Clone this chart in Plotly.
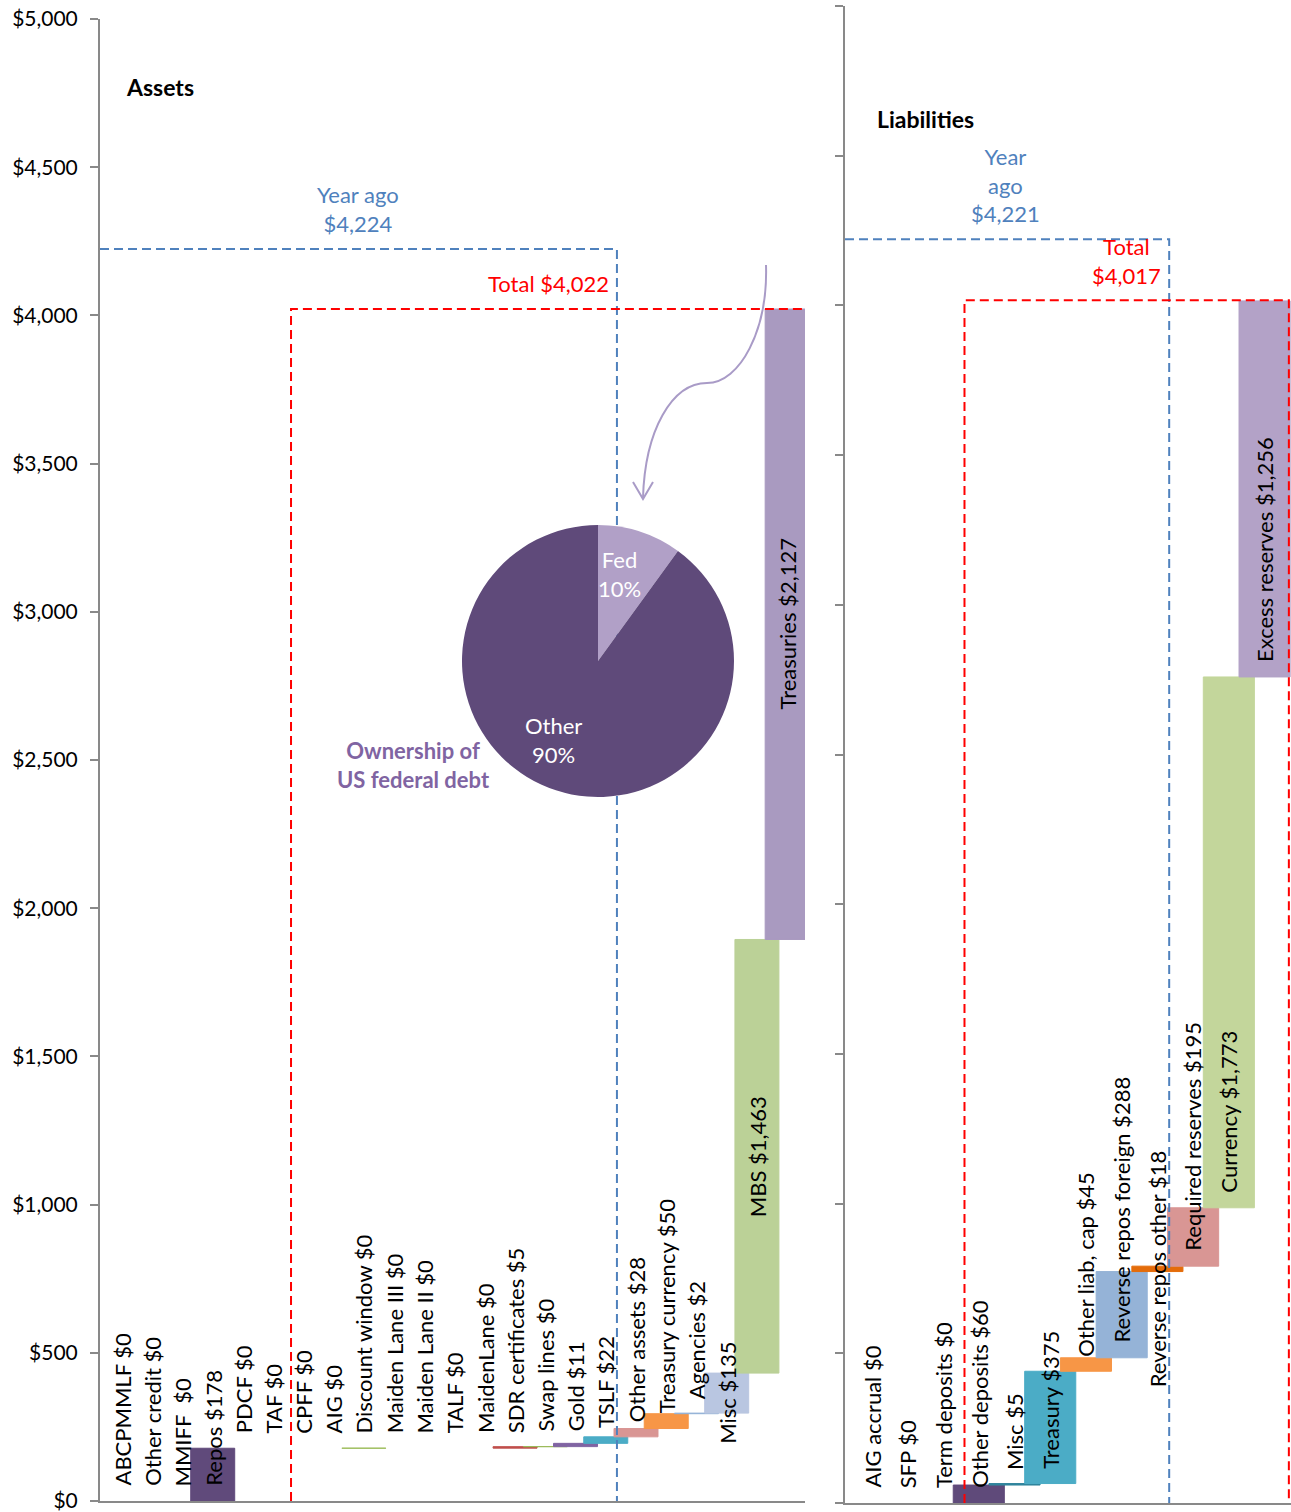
import plotly.graph_objects as go

# ---------------- data ----------------
asset_names = ["ABCPMMLF", "Other credit", "MMIFF ", "Repos", "PDCF", "TAF", "CPFF", "AIG",
               "Discount window", "Maiden Lane III", "Maiden Lane II", "TALF", "MaidenLane",
               "SDR certificates", "Swap lines", "Gold", "TSLF", "Other assets",
               "Treasury currency", "Agencies", "Misc", "MBS", "Treasuries"]
asset_values = [0, 0, 0, 178, 0, 0, 0, 0, 0.3, 0, 0, 0, 0, 5, 0.2, 11, 22, 28, 50, 2, 135, 1463, 2127]

liab_names = ["AIG accrual", "SFP", "Term deposits", "Other deposits", "Misc", "Treasury",
              "Other liab, cap", "Reverse repos foreign", "Reverse repos other",
              "Required reserves", "Currency", "Excess reserves"]
liab_values = [0, 0, 0, 60, 5, 375, 45, 288, 18, 195, 1773, 1256]

assets_total = 4022
assets_year_ago = 4224
liab_total = 4017
liab_year_ago = 4221

ownership_labels = ["Fed", "Other"]
ownership_values = [10, 90]

y_ticks = [0, 500, 1000, 1500, 2000, 2500, 3000, 3500, 4000, 4500, 5000]

# ---------------- styles ----------------
asset_colors = ["#4F81BD", "#C0504D", "#9BBB59", "#604A7B", "#4BACC6", "#F79646", "#2C4D75",
                "#772C2A", "#9BBB59", "#4F81BD", "#C0504D", "#9BBB59", "#8064A2", "#C0504D",
                "#9BBB59", "#8064A2", "#4BACC6", "#D99694", "#F79646", "#95B3D7", "#B9C6E1",
                "#BBD197", "#A99AC0"]
liab_colors = ["#4F81BD", "#C0504D", "#9BBB59", "#5F4A7A", "#31859C", "#4BACC6", "#F79646",
               "#95B3D7", "#E46C0A", "#D99694", "#C3D69B", "#B3A2C7"]
pie_colors = ["#B1A0C7", "#5F4A7A"]
asset_center_labels = {"Misc", "MBS", "Treasuries"}
liab_center_labels = {"Reverse repos other"}

W, H = 1291, 1512
FONT = "Lato, Calibri, 'Open Sans', sans-serif"
BLUE = "#4F81BD"
RED = "#FF0000"
AXIS_GRAY = "#898989"
DASH = "9px,5px"


def px(x, y):
    return x / W, 1 - y / H


def bases_of(values):
    out, c = [], 0
    for v in values:
        out.append(c)
        c += v
    return out


fig = go.Figure()
annotations = []

panels = [
    dict(names=asset_names, values=asset_values, colors=asset_colors, centers=asset_center_labels,
         xa="x", ya="y", width=1.455),
    dict(names=liab_names, values=liab_values, colors=liab_colors, centers=liab_center_labels,
         xa="x2", ya="y2", width=1.43),
]

for p in panels:
    vals = p["values"]
    bases = bases_of(vals)
    idx = list(range(len(vals)))
    fig.add_trace(go.Bar(
        x=idx, y=vals, base=bases, width=p["width"],
        marker=dict(color=p["colors"],
                    line=dict(color=p["colors"], width=[1 if v > 0 else 0 for v in vals])),
        xaxis=p["xa"], yaxis=p["ya"], showlegend=False, hoverinfo="skip"))
    for i, (n, v, b) in enumerate(zip(p["names"], vals, bases)):
        text = f"{n} ${v:,.0f}"
        if n in p["centers"]:
            y, ya, ys = b + v / 2, "middle", 0
        else:
            y, ya, ys = b, "bottom", 13
        annotations.append(dict(x=i, y=y, xref=p["xa"], yref=p["ya"], text=text, textangle=-90,
                                xanchor="center", yanchor=ya, yshift=ys, showarrow=False,
                                font=dict(family=FONT, size=22, color="black")))

# dashed outline boxes (drawn as line traces so the pie sits on top of them)
L_XMIN, L_XMAX = -0.728, 22.59
R_XMIN, R_XMAX = -0.745, 11.74
box_style = dict(mode="lines", showlegend=False, hoverinfo="skip")
fig.add_trace(go.Scatter(x=[L_XMIN, 16.37, 16.37], y=[assets_year_ago, assets_year_ago, 0],
                         line=dict(color=BLUE, width=2, dash=DASH), xaxis="x", yaxis="y", **box_style))
fig.add_trace(go.Scatter(x=[5.59, 5.59, L_XMAX], y=[0, assets_total, assets_total],
                         line=dict(color=RED, width=2, dash=DASH), xaxis="x", yaxis="y", **box_style))
fig.add_trace(go.Scatter(x=[R_XMIN, 8.33, 8.33], y=[liab_year_ago, liab_year_ago, 0],
                         line=dict(color=BLUE, width=2, dash=DASH), xaxis="x2", yaxis="y2", **box_style))
fig.add_trace(go.Scatter(x=[2.6, 2.6, 11.68, 11.68], y=[0, liab_total, liab_total, 0],
                         line=dict(color=RED, width=2, dash=DASH), xaxis="x2", yaxis="y2", **box_style))

# pie inset
pcx, pcy, pr = 598, 661, 136
fig.add_trace(go.Pie(values=ownership_values, labels=ownership_labels, sort=False,
                     direction="clockwise", rotation=0, textinfo="none", hoverinfo="skip",
                     marker=dict(colors=pie_colors, line=dict(width=0)),
                     domain=dict(x=[(pcx - pr) / W, (pcx + pr) / W],
                                 y=[1 - (pcy + pr) / H, 1 - (pcy - pr) / H]),
                     showlegend=False))
tot = sum(ownership_values)
for lab, v, pos in zip(ownership_labels, ownership_values, [(619, 574), (553, 740)]):
    x, y = px(*pos)
    annotations.append(dict(x=x, y=y, xref="paper", yref="paper", showarrow=False,
                            text=f"{lab}<br>{round(100 * v / tot)}%",
                            font=dict(family=FONT, size=22, color="white")))


def note(text, pos, color, size=22, bold=False, xanchor="center"):
    x, y = px(*pos)
    if bold:
        text = f"<b>{text}</b>"
    annotations.append(dict(x=x, y=y, xref="paper", yref="paper", text=text, showarrow=False,
                            xanchor=xanchor, yanchor="middle",
                            font=dict(family=FONT, size=size, color=color)))


note("Assets", (124, 87), "black", size=23, bold=True, xanchor="left")
note("Liabilities", (875, 119), "black", size=23, bold=True, xanchor="left")
note(f"Year ago<br>${assets_year_ago:,}", (358, 209), BLUE)
note(f"Total ${assets_total:,}", (611, 283), RED, xanchor="right")
note(f"Year<br>ago<br>${liab_year_ago:,}", (1006, 185), BLUE)
note(f"Total<br>${liab_total:,}", (1126, 261), RED)
note("Ownership of<br>US federal debt", (414, 765), "#8064A2", bold=True)

# curved arrow from Treasuries bar to the pie
pts = [(766, 265), (768, 330), (740, 383), (707, 383), (672, 383), (645, 430), (643, 498)]
c = [px(*q) for q in pts]
path = (f"M {c[0][0]},{c[0][1]} C {c[1][0]},{c[1][1]} {c[2][0]},{c[2][1]} {c[3][0]},{c[3][1]} "
        f"C {c[4][0]},{c[4][1]} {c[5][0]},{c[5][1]} {c[6][0]},{c[6][1]}")
head = [px(633, 482), px(643, 499), px(653, 482)]
path2 = f"M {head[0][0]},{head[0][1]} L {head[1][0]},{head[1][1]} L {head[2][0]},{head[2][1]}"
shapes = [dict(type="path", path=path, xref="paper", yref="paper", line=dict(color="#A99BC7", width=2)),
          dict(type="path", path=path2, xref="paper", yref="paper", line=dict(color="#A99BC7", width=2))]

axis_common = dict(showgrid=False, zeroline=False, showline=True, linecolor=AXIS_GRAY, linewidth=2,
                   automargin=False)

fig.update_layout(
    width=W, height=H, margin=dict(l=0, r=0, t=0, b=0, autoexpand=False),
    paper_bgcolor="white", plot_bgcolor="rgba(0,0,0,0)",
    showlegend=False, barmode="overlay",
    font=dict(family=FONT, size=21, color="black"),
    xaxis=dict(domain=[100 / W, 805 / W], range=[L_XMIN, L_XMAX], showticklabels=False, ticks="",
               anchor="y", **axis_common),
    yaxis=dict(domain=[1 - 1501 / H, 1 - 19 / H], range=[0, 5000], tickvals=y_ticks,
               ticktext=[f"${v:,}" for v in y_ticks], ticks="outside", ticklen=8, tickwidth=2,
               tickcolor=AXIS_GRAY, tickfont=dict(family=FONT, size=21, color="black"),
               ticklabelstandoff=8, ticklabeloverflow="allow", anchor="x", **axis_common),
    xaxis2=dict(domain=[845 / W, 1.0], range=[R_XMIN, R_XMAX], showticklabels=False, ticks="",
                anchor="y2", **axis_common),
    yaxis2=dict(domain=[1 - 1503 / H, 1 - 6 / H], range=[0, 5000], tickvals=y_ticks,
                showticklabels=False, ticks="outside", ticklen=8, tickwidth=2, tickcolor=AXIS_GRAY,
                anchor="x2", **axis_common),
    annotations=annotations, shapes=shapes,
)

fig.write_html("out.html")
